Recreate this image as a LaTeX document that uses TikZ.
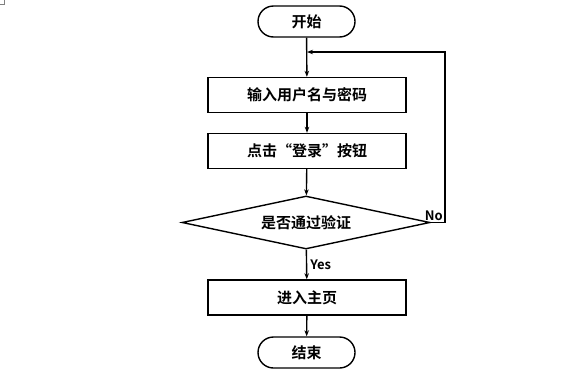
\documentclass[tikz,border=0pt]{standalone}
\usepackage{fontspec}
\newfontfamily\cjk{Noto Sans CJK SC}[BoldFont={Noto Sans CJK SC Bold}]
\usetikzlibrary{shapes.geometric,shapes.misc,arrows.meta}
\begin{document}
\begin{tikzpicture}[x=1pt,y=-1pt,
  every node/.style={font=\cjk\bfseries\fontsize{15}{16}\selectfont},
  term/.style={draw,line width=1.4pt,rounded rectangle,minimum width=97pt,minimum height=31pt,inner sep=0pt},
  procbox/.style={draw,line width=1.4pt,rectangle,minimum width=198pt,minimum height=35pt,inner sep=0pt},
  decide/.style={draw,line width=1.4pt,diamond,aspect=4.7,minimum width=248pt,minimum height=53pt,inner sep=0pt},
  flow/.style={line width=1.4pt,-{Stealth[length=6pt,width=4.5pt]}},
  lbl/.style={font=\cjk\bfseries\fontsize{13}{14}\selectfont,inner sep=1pt}]
\useasboundingbox (0,0) rectangle (586,370);
\draw[gray,line width=0.8pt] (0,4) -- (4,4) -- (4,0);
\node[term] (start) at (306.5,21.5) {开始};
\node[procbox] (in) at (307,95) {输入用户名与密码};
\node[procbox] (click) at (307,151) {点击“登录”按钮};
\node[decide] (chk) at (306,222.5) {是否通过验证};
\node[procbox] (home) at (307,297.5) {进入主页};
\node[term] (stop) at (306.5,352.5) {结束};
\coordinate (loopin) at (307,52);
\coordinate (rt) at (445,222.5);
\coordinate (rtop) at (445,52);
\draw[flow] (start) -- (in);
\draw[flow] (in) -- (click);
\draw[flow] (click) -- (chk);
\draw[flow] (chk) -- node[lbl,right,xshift=2pt] {Yes} (home);
\draw[flow] (home) -- (stop);
\draw[flow] (chk.east) -- (rt) -- (rtop) -- (loopin);
\node[lbl,anchor=south east] (no) at (444,222) {No};
\end{tikzpicture}
\end{document}
